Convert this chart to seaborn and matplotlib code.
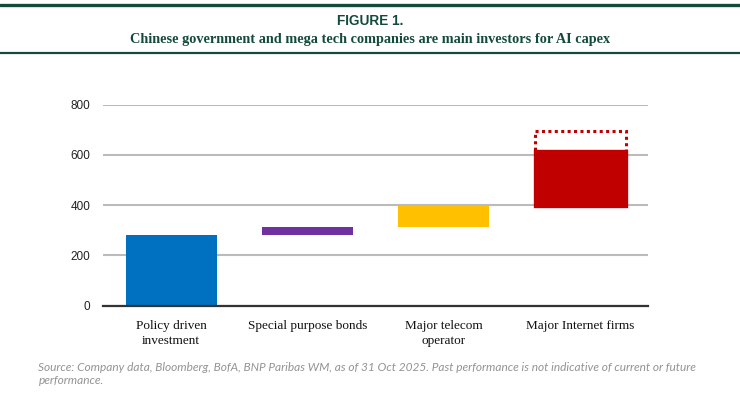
#!/usr/bin/env python3
import matplotlib
matplotlib.use("Agg")
import matplotlib.pyplot as plt
import pandas as pd
import seaborn as sns
from matplotlib.lines import Line2D

# data (USD bn)
categories = ["Policy driven\ninvestment", "Special purpose bonds", "Major telecom\noperator", "Major Internet firms"]
bar_bottom = [0, 280, 315, 395]
bar_top = [280, 315, 395, 615]
upside_top = 695  # dotted extension for Internet firms
colors = ["#0070c0", "#7030a0", "#ffc000", "#c00000"]
yticks = [0, 200, 400, 600, 800]

GREEN = "#134a3c"

df = pd.DataFrame({
    "category": categories,
    "bottom": bar_bottom,
    "height": [t - b for t, b in zip(bar_top, bar_bottom)],
})

sns.set_style("white")
plt.rcParams["font.family"] = ["Liberation Sans", "DejaVu Sans"]

fig = plt.figure(figsize=(7.4, 3.99), dpi=100)
ax = fig.add_axes([0.139, 0.2338, 0.737, 0.5038])

# dotted outline for the upper estimate (drawn first, solid bar covers its base)
up = pd.DataFrame({"category": [categories[3]], "height": [upside_top - bar_top[3]]})
sns.barplot(data=up, x="category", y="height", order=categories, bottom=bar_top[3],
            fill=False, color="#c00000", edgecolor="#c00000", saturation=1,
            linewidth=2.2, linestyle=(0, (1, 1.1)),
            width=0.667, errorbar=None, ax=ax, zorder=2)
n_up = len(ax.patches)

sns.barplot(data=df, x="category", y="height", order=categories, bottom=df["bottom"].values,
            color=colors[0], saturation=1, width=0.667, errorbar=None, ax=ax,
            zorder=3, linewidth=0)
for patch, c in zip(ax.patches[n_up:], colors):
    patch.set_facecolor(c)
    patch.set_edgecolor(c)
# the solid red bar hides the base of the dotted outline
ax.patches[-1].set_linewidth(2.4)

ax.set_xlim(-0.5, 3.5)
ax.set_ylim(0, 800)
ax.set_yticks(yticks)
ax.set_yticklabels([str(v) for v in yticks], fontsize=8.5, color="#222222")
ax.yaxis.grid(True, color="#bbbbbb", linewidth=1.5)
ax.set_axisbelow(True)
ax.tick_params(axis="both", length=0)
ax.tick_params(axis="y", pad=9)
ax.tick_params(axis="x", pad=10)
for lab in ax.get_xticklabels():
    lab.set_fontfamily("Liberation Serif")
    lab.set_fontsize(9.5)
    lab.set_color("#111111")
    lab.set_linespacing(1.35)
ax.set_xlabel("")
ax.set_ylabel("")
for s in ["top", "right", "left"]:
    ax.spines[s].set_visible(False)
ax.spines["bottom"].set_color("#333333")
ax.spines["bottom"].set_linewidth(1.6)
ax.spines["bottom"].set_zorder(5)

# header rules and titles
fig.add_artist(Line2D([0, 1], [0.987, 0.987], color=GREEN, linewidth=2.4))
fig.add_artist(Line2D([0, 1], [0.868, 0.868], color=GREEN, linewidth=1.6))
fig.text(0.5, 0.947, "FIGURE 1.", ha="center", va="center", fontsize=9.8,
         fontweight="bold", color=GREEN)
fig.text(0.5, 0.901, "Chinese government and mega tech companies are main investors for AI capex",
         ha="center", va="center", fontsize=10.3, fontweight="bold", color=GREEN,
         family=["Liberation Serif", "DejaVu Serif"])

fig.text(0.052, 0.093,
         "Source: Company data, Bloomberg, BofA, BNP Paribas WM, as of 31 Oct 2025. Past performance is not indicative of current or future\nperformance.",
         ha="left", va="top", fontsize=8.55, style="italic", color="#939393",
         family=["Lato", "DejaVu Sans"], linespacing=1.2)

fig.savefig("out.png", dpi=100)
